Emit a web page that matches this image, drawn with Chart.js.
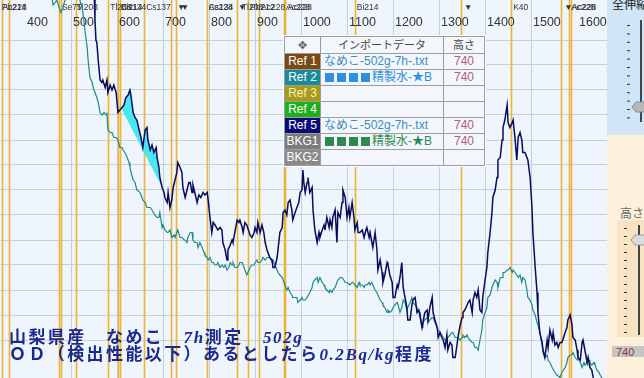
<!DOCTYPE html>
<html lang="ja">
<head>
<meta charset="utf-8">
<title>山梨県産 なめこ 7h測定 502g</title>
<script src="https://cdn.jsdelivr.net/npm/chart.js@4.4.1/dist/chart.umd.min.js"></script>
<style>
  html, body { margin: 0; padding: 0; background: #fff; overflow: hidden; }
  #wrap { position: relative; width: 644px; height: 378px; }
  #spec { position: absolute; left: 0; top: 0; background: #eef5fc; }
  #refs { position: absolute; left: 284px; top: 36px; width: 199px; padding: 1px; background: #9d9d9d;
          outline: 1px solid #fff; font: 12px "Liberation Sans", "Noto Sans CJK JP", sans-serif; }
  #refs .row { display: flex; height: 15px; margin-top: 1px; line-height: 15px; }
  #refs .row.head { height: 16px; margin-top: 0; line-height: 16px; }
  #refs .row div { background: #f3f7fc; white-space: nowrap; overflow: hidden; }
  #refs .c1 { width: 35px; text-align: center; color: #fff; }
  #refs .c2 { width: 122px; margin-left: 1px; padding-left: 3px; box-sizing: border-box; }
  #refs .c3 { width: 40px; margin-left: 1px; text-align: center; color: #b0606e; }
  #refs .head div { color: #444; text-align: center; font-size: 11px; }
  #refs .sq { display: inline-block; width: 9px; height: 9px; margin: 0 2px 0 1px; vertical-align: -1px; }
  #note { position: absolute; left: 9px; top: 329px; color: #1b2a8e; white-space: nowrap;
          font: bold 17px/17px "Liberation Serif", "Noto Sans CJK JP", serif; letter-spacing: 2.4px; }
  #note i { letter-spacing: 1.6px; }
  #side { position: absolute; left: 607px; top: 0; }
</style>
</head>
<body>
<div id="wrap">
  <canvas id="spec" width="607" height="378"></canvas>

  <div id="refs">
    <div class="row head"><div class="c1" style="color:#555">✥</div><div class="c2" style="padding:0">インポートデータ</div><div class="c3" style="color:#444">高さ</div></div>
    <div class="row"><div class="c1" style="background:#7b4912">Ref 1</div><div class="c2" style="color:#3a8fc2">なめこ-502g-7h-.txt</div><div class="c3">740</div></div>
    <div class="row"><div class="c1" style="background:#1b8b9b">Ref 2</div><div class="c2" style="color:#2f8fe0"><span class="sq" style="background:#2f8fe0"></span><span class="sq" style="background:#2f8fe0"></span><span class="sq" style="background:#2f8fe0"></span><span class="sq" style="background:#2f8fe0"></span>精製水-★B</div><div class="c3">740</div></div>
    <div class="row"><div class="c1" style="background:#a99a1a;color:#f6f0c0">Ref 3</div><div class="c2"></div><div class="c3"></div></div>
    <div class="row"><div class="c1" style="background:#1cb01c">Ref 4</div><div class="c2"></div><div class="c3"></div></div>
    <div class="row"><div class="c1" style="background:#0b0b78">Ref 5</div><div class="c2" style="color:#3a8fc2">なめこ-502g-7h-.txt</div><div class="c3">740</div></div>
    <div class="row"><div class="c1" style="background:#7c7c7c">BKG1</div><div class="c2" style="color:#2e8a52"><span class="sq" style="background:#2e8a52"></span><span class="sq" style="background:#2e8a52"></span><span class="sq" style="background:#2e8a52"></span><span class="sq" style="background:#2e8a52"></span>精製水-★B</div><div class="c3">740</div></div>
    <div class="row"><div class="c1" style="background:#8a8a8a">BKG2</div><div class="c2"></div><div class="c3"></div></div>
  </div>

  <div id="note">山梨県産　なめこ　<i>7h</i>測定　<i>502g</i><br>ＯＤ（検出性能以下）あるとしたら<i>0.2Bq/kg</i>程度</div>

  <svg id="side" width="37" height="378" xmlns="http://www.w3.org/2000/svg">
    <rect x="0" y="0" width="37" height="378" fill="#fdf1db"/>
    <rect x="0" y="0" width="37" height="135" fill="#cfe5f8"/>
    <text x="5" y="9" font-family="Noto Sans CJK JP" font-size="12" fill="#222">全伸縮</text>
    <g id="dashTop" fill="#333"></g>
    <rect x="33" y="20" width="2" height="102" fill="#444"/>
    <path d="M25 107 L29 102 L39 102 L39 112 L29 112 Z" fill="#b7b7b7" stroke="#888" stroke-width="1"/>
    <rect x="10" y="220" width="27" height="117" fill="#f8e4c5"/>
    <text x="13" y="218" font-family="Noto Sans CJK JP" font-size="12" fill="#666">高さ</text>
    <g id="dashBot" fill="#333"></g>
    <rect x="31" y="225" width="2" height="110" fill="#444"/>
    <path d="M24 240 L28 235 L39 235 L39 245 L28 245 Z" fill="#dcdcdc" stroke="#999" stroke-width="1"/>
    <rect x="5" y="346" width="32" height="11" fill="#c6c6c6"/>
    <text x="9" y="355.5" font-family="Liberation Sans" font-size="11" fill="#8b3a46">740</text>
  </svg>
</div>

<script>
// energy axis (keV) tick labels shown along the top
const energyTicks = [400, 500, 600, 700, 800, 900, 1000, 1100, 1200, 1300, 1400, 1500, 1600];

// nuclide marker lines (keV)
const markerKeV = [347, 362, 472, 476, 508, 579, 601, 604, 657, 715, 726, 793, 858, 883, 907, 961, 964, 1115, 1345, 1454, 1564, 1581, 1584];

// marker captions: where each text starts (keV) and what it says
const captionKeV = [345, 347, 476, 508, 581, 604, 606, 659, 726, 734, 795, 795, 859, 867, 885, 909, 963, 967, 1117, 1350, 1457, 1568, 1583, 1585];
const captionText = ['Pb214', 'Ac228', 'Se75', 'Tl208', 'Tl208', 'Bi214', 'Cs134', 'Cs137', '▼', '▼', 'Cs134', 'Ac228', '▼', 'Tl208', 'Pb212', 'Ac228', 'Ac228', 'Ac228', 'Bi214', '▼', 'K40', '▼', 'Ac228', 'Ac228'];

// Ref 5 : なめこ-502g-7h-.txt  [keV, counts]
const sampleSpectrum = [
  [539,158],[548,150],[550,138],[552,130],[554,129],[557,122],[561,114],[565,113],[567,114],[572,111],[576,114],[578,109],
  [583,112],[587,110],[591,112],[596,109],[600,101],[604,102],[609,103],[613,104],[617,107],[622,108],[626,110],[628,108],
  [633,101],[637,99],[641,98],[646,94],[650,91],[654,87],[659,94],[663,95],[665,90],[670,86],[674,88],[678,85],[683,87],
  [685,83],[689,79],[691,75],[696,71],[700,69],[702,67],[707,65],[709,69],[713,63],[717,66],[720,71],[724,74],[728,77],
  [730,81],[735,79],[739,77],[741,71],[746,67],[750,70],[754,73],[757,73],[761,69],[763,72],[767,69],[772,65],[776,68],
  [780,67],[785,69],[789,68],[794,69],[796,66],[800,59],[804,53],[807,57],[811,56],[817,54],[822,55],[826,54],[828,49],
  [833,46],[837,42],[839,46],[844,48],[848,50],[850,49],[854,53],[859,58],[863,57],[865,58],[870,55],[872,53],[876,57],
  [880,56],[887,52],[891,51],[896,53],[898,55],[902,53],[904,57],[909,53],[913,56],[917,53],[920,49],[924,46],[930,43],
  [935,42],[937,39],[941,39],[946,43],[952,53],[957,55],[959,61],[963,62],[967,60],[970,65],[974,66],[978,62],[980,58],
  [985,61],[989,63],[993,65],[996,69],[1000,70],[1002,78],[1004,73],[1007,69],[1011,73],[1013,75],[1017,69],[1022,71],
  [1024,62],[1028,54],[1033,49],[1037,53],[1039,51],[1044,54],[1048,56],[1050,54],[1054,59],[1059,55],[1061,58],[1065,55],
  [1067,59],[1072,62],[1076,49],[1078,61],[1083,59],[1087,65],[1089,70],[1094,67],[1098,59],[1102,63],[1104,59],[1109,65],
  [1113,59],[1115,54],[1120,57],[1122,53],[1126,53],[1131,54],[1135,51],[1139,54],[1141,55],[1146,51],[1148,53],[1152,49],
  [1154,47],[1159,53],[1163,46],[1165,38],[1170,42],[1174,37],[1176,33],[1180,36],[1185,41],[1187,40],[1191,36],[1196,33],
  [1198,27],[1202,27],[1207,32],[1209,31],[1213,35],[1217,41],[1220,31],[1224,27],[1228,23],[1230,18],[1235,18],[1239,24],
  [1241,26],[1246,27],[1250,21],[1254,22],[1257,19],[1261,15],[1265,19],[1267,21],[1272,22],[1274,18],[1278,23],[1283,27],
  [1285,21],[1289,18],[1294,15],[1296,11],[1300,13],[1304,11],[1307,10],[1311,7],[1315,12],[1317,6],[1322,9],[1326,8],
  [1328,3],[1333,3],[1337,8],[1339,11],[1344,16],[1348,19],[1350,21],[1354,22],[1359,24],[1361,25],[1365,26],[1370,21],
  [1372,26],[1376,29],[1380,27],[1383,30],[1387,22],[1391,21],[1393,27],[1398,34],[1402,39],[1404,45],[1409,53],[1413,61],
  [1415,67],[1420,70],[1424,75],[1426,82],[1431,83],[1435,90],[1437,95],[1441,98],[1446,104],[1448,97],[1452,95],[1457,97],
  [1459,98],[1463,91],[1467,82],[1470,91],[1474,93],[1478,90],[1480,85],[1485,85],[1489,83],[1491,82],[1496,75],[1500,63],
  [1502,53],[1507,39],[1511,29],[1513,21],[1517,13],[1522,9],[1524,6],[1528,3],[1533,10],[1535,7],[1539,14],[1544,10],
  [1546,13],[1550,8],[1554,9],[1557,7],[1561,9],[1565,9],[1567,10],[1572,13],[1576,15],[1578,18],[1583,20],[1587,16],
  [1589,11],[1594,10],[1598,6],[1600,3],[1605,2],[1609,9],[1611,10],[1615,6],[1620,1],[1622,3],[1626,-1],[1630,-2],
  [1633,-5],[1639,-8]
];

// BKG1 : 精製水-★B  [keV, counts]
const backgroundSpectrum = [
  [448,150],[457,146],[459,144],[463,145],[467,146],[472,143],[476,141],[480,143],[485,146],[489,149],[507,149],[517,146],
  [522,143],[526,138],[528,134],[533,127],[535,122],[539,115],[544,113],[546,111],[550,109],[554,107],[557,105],[561,101],
  [565,100],[570,101],[574,100],[576,101],[578,94],[583,93],[587,93],[591,91],[596,91],[600,90],[604,87],[609,87],[611,86],
  [615,85],[620,83],[624,81],[626,79],[630,76],[633,74],[637,73],[641,70],[648,69],[652,67],[654,66],[659,65],[663,63],
  [670,63],[674,62],[680,60],[685,59],[689,59],[691,61],[696,55],[698,56],[702,54],[707,53],[709,53],[713,54],[717,51],
  [722,52],[724,51],[728,53],[730,54],[735,51],[739,51],[744,50],[746,50],[750,49],[752,51],[757,53],[761,53],[763,50],
  [767,49],[772,49],[774,47],[778,49],[783,47],[787,45],[789,44],[794,43],[796,42],[800,43],[804,41],[807,41],[811,40],
  [815,40],[817,41],[822,39],[826,40],[830,39],[833,40],[837,38],[841,39],[844,41],[848,40],[850,41],[854,39],[859,39],
  [863,40],[865,41],[870,41],[872,40],[876,38],[880,36],[885,38],[887,39],[891,40],[896,40],[898,41],[902,42],[904,41],
  [909,41],[913,42],[915,43],[920,42],[924,43],[928,43],[930,43],[935,41],[937,42],[941,40],[946,38],[948,37],[952,36],
  [957,35],[959,34],[963,32],[967,30],[970,31],[974,29],[978,28],[980,27],[985,27],[989,27],[991,25],[996,26],[1000,27],
  [1002,26],[1007,26],[1011,27],[1013,27],[1017,29],[1022,31],[1024,33],[1028,34],[1033,35],[1035,33],[1039,35],[1044,33],
  [1048,32],[1050,31],[1054,30],[1059,29],[1061,30],[1065,29],[1067,30],[1072,31],[1076,33],[1078,34],[1083,35],[1087,35],
  [1091,34],[1094,33],[1098,33],[1100,33],[1104,32],[1109,33],[1111,33],[1115,32],[1120,31],[1124,33],[1126,32],[1131,32],
  [1135,31],[1137,32],[1141,32],[1146,33],[1148,32],[1152,33],[1154,32],[1159,30],[1163,29],[1165,28],[1170,26],[1174,25],
  [1176,24],[1180,23],[1185,21],[1187,22],[1191,21],[1196,22],[1198,23],[1202,24],[1207,25],[1209,24],[1213,21],[1217,23],
  [1220,26],[1224,25],[1228,22],[1230,23],[1235,25],[1239,27],[1241,25],[1246,24],[1250,23],[1252,22],[1257,21],[1261,15],
  [1263,17],[1267,18],[1272,19],[1274,17],[1278,18],[1283,19],[1285,19],[1289,17],[1294,15],[1296,14],[1300,13],[1304,12],
  [1307,11],[1311,10],[1315,10],[1317,11],[1322,12],[1326,13],[1328,13],[1333,11],[1337,11],[1339,11],[1344,10],[1348,11],
  [1350,12],[1354,11],[1359,12],[1361,11],[1365,10],[1370,9],[1372,9],[1376,7],[1380,7],[1383,6],[1387,10],[1391,14],
  [1393,18],[1398,21],[1402,23],[1404,27],[1409,28],[1413,31],[1415,32],[1420,34],[1424,33],[1426,31],[1431,35],[1435,35],
  [1437,37],[1441,37],[1446,38],[1448,38],[1452,39],[1457,37],[1459,38],[1463,37],[1467,36],[1470,35],[1474,36],[1478,33],
  [1480,35],[1485,34],[1489,30],[1491,27],[1496,26],[1500,24],[1502,22],[1507,20],[1511,17],[1513,16],[1517,13],[1522,8],
  [1524,5],[1528,3],[1533,4],[1535,2],[1539,1],[1544,-1],[1550,-3],[1554,-4],[1561,-5],[1565,-3],[1572,-1],[1576,1],
  [1578,3],[1583,4],[1587,4],[1589,5],[1594,3],[1598,2],[1600,3],[1605,1],[1609,-1],[1613,1],[1615,0],[1620,1],[1624,2],
  [1626,1],[1630,0],[1635,1],[1637,0],[1641,-2],[1646,-3],[1648,-4],[1655,-6]
];

// peak area (Cs134/Cs137 region) baseline [keV, counts]
const roiBaseline = [[609, 102], [696, 71]];

const gridColor = '#c7cfd9';
const toPts = arr => arr.map(p => ({ x: p[0], y: p[1] }));
const roiPts = sampleSpectrum.filter(p => p[0] >= roiBaseline[0][0] && p[0] <= roiBaseline[1][0]);

const markerPlugin = {
    id: 'nuclides',
    beforeDatasetsDraw(chart) {
        const { ctx, chartArea, scales } = chart;
        const x = scales.x;
        ctx.save();
        ctx.strokeStyle = '#efb232';
        ctx.lineWidth = 1.6;
        markerKeV.forEach(e => {
            const px = Math.round(x.getPixelForValue(e)) + 0.5;
            ctx.beginPath();
            ctx.moveTo(px, chartArea.top);
            ctx.lineTo(px, chartArea.bottom);
            ctx.stroke();
        });
        ctx.fillStyle = '#333';
        ctx.textBaseline = 'alphabetic';
        ctx.font = '12.5px "Liberation Sans"';
        energyTicks.forEach(e => ctx.fillText(String(e), x.getPixelForValue(e) + 1, 26));
        ctx.font = '8.5px "Liberation Sans", "DejaVu Sans"';
        captionKeV.forEach((e, i) => ctx.fillText(captionText[i], x.getPixelForValue(e) + 1, 10));
        ctx.restore();
    }
};

const chart = new Chart(document.getElementById('spec').getContext('2d'), {
    type: 'line',
    data: {
        datasets: [{
            label: 'Ref 5 なめこ-502g-7h-.txt',
            data: toPts(sampleSpectrum),
            borderColor: '#0b0b5c',
            borderWidth: 1.5,
            pointRadius: 0,
            fill: false
        }, {
            label: 'BKG1 精製水-★B',
            data: toPts(backgroundSpectrum),
            borderColor: '#1f8a8a',
            borderWidth: 1.2,
            pointRadius: 0,
            fill: false
        }, {
            label: 'ROI',
            data: toPts(roiPts),
            borderColor: 'transparent',
            pointRadius: 0,
            fill: { target: 3, above: '#4ae6f2', below: '#4ae6f2' }
        }, {
            label: 'ROI base',
            data: toPts(roiBaseline),
            borderColor: 'transparent',
            pointRadius: 0,
            fill: false
        }]
    },
    options: {
        responsive: false,
        animation: false,
        layout: { padding: 0 },
        plugins: { legend: { display: false }, tooltip: { enabled: false } },
        scales: {
            x: {
                type: 'linear',
                min: 343.5,
                max: 1663.1,
                afterFit: s => { s.height = 0; },
                border: { display: false },
                ticks: { display: false, stepSize: 100, maxTicksLimit: 50 },
                grid: { drawTicks: false, color: c => (c.tick && c.tick.value % 100 === 0) ? gridColor : 'transparent' }
            },
            y: {
                type: 'linear',
                min: -5.2,
                max: 146,
                afterFit: s => { s.width = 0; },
                border: { display: false },
                ticks: { display: false, stepSize: 10, maxTicksLimit: 50 },
                grid: { drawTicks: false, color: c => (c.tick && c.tick.value % 10 === 0 && c.tick.value >= 0 && c.tick.value <= 130) ? gridColor : 'transparent' }
            }
        }
    },
    plugins: [markerPlugin]
});

// slider dashes on the side panel
const dashTop = document.getElementById('dashTop');
const dashBot = document.getElementById('dashBot');
for (let i = 0; i < 12; i++) {
    dashTop.insertAdjacentHTML('beforeend', '<rect x="20" y="' + (25 + i * 8.4).toFixed(1) + '" width="3" height="1"/>');
}
for (let i = 0; i < 14; i++) {
    dashBot.insertAdjacentHTML('beforeend', '<rect x="17" y="' + (228 + i * 8) + '" width="3" height="1"/>');
}
</script>
</body>
</html>
